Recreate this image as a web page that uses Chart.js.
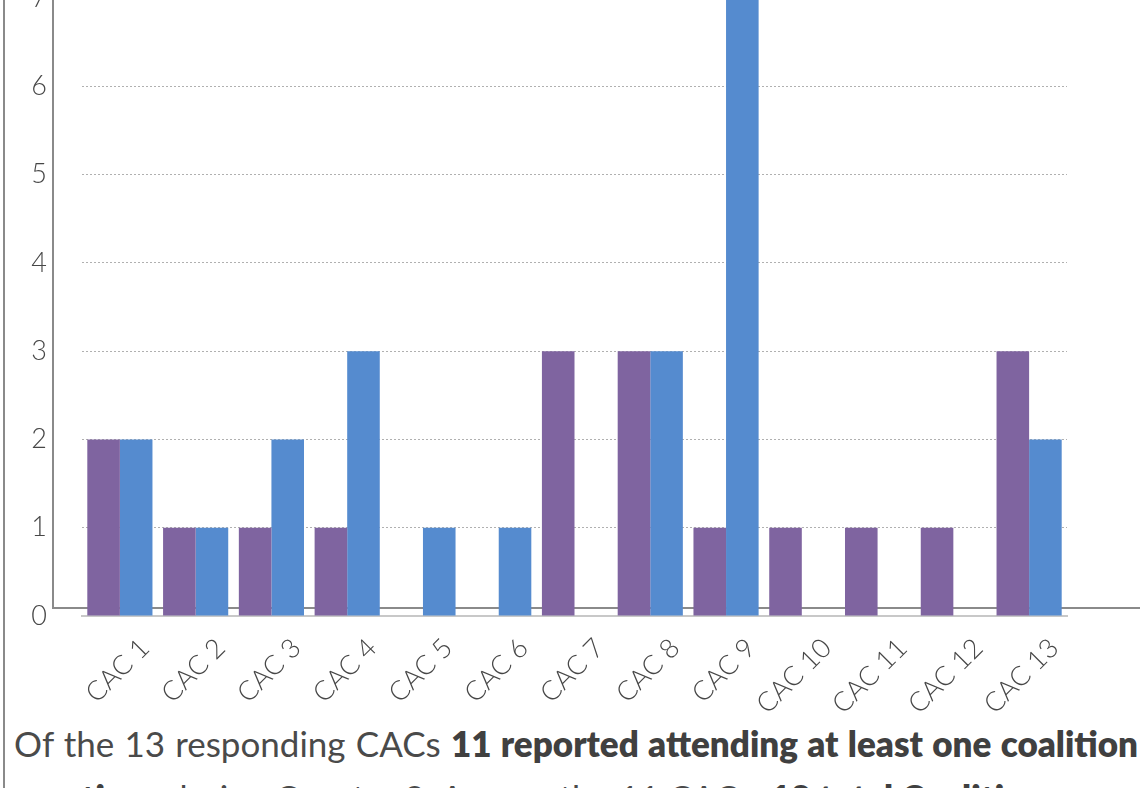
<!DOCTYPE html>
<html>
<head>
<meta charset="utf-8">
<script src="https://cdn.jsdelivr.net/npm/chart.js@4/dist/chart.umd.min.js"></script>
<style>
  html, body { margin: 0; padding: 0; background: #fff; overflow: hidden; }
  body { width: 1140px; height: 788px; position: relative; }
  #wrap { position: absolute; left: 0; top: -40px; width: 1140px; height: 756px; }
  .vline { position: absolute; border-left: 2px solid #8a8a8a; }
  .hline { position: absolute; border-top: 2px solid #8a8a8a; }
  .txt { position: absolute; left: 14px; width: 1124px; font-family: Lato, sans-serif; font-size: 35px; color: #4a4a4a; white-space: nowrap; }
  .txt b { color: #404040; font-weight: 800; }
  #line1 { top: 722px; text-align: justify; text-align-last: justify; white-space: normal; }
  #line2 { top: 776px; }
</style>
</head>
<body>
<div class="vline" style="left:3px; top:0; height:788px;"></div>
<div class="vline" style="left:52px; top:0; height:608px;"></div>
<div class="hline" style="left:52px; top:607px; width:1090px;"></div>
<div id="wrap"><canvas id="myChart"></canvas></div>
<div class="txt" id="line1">Of the 13 responding CACs <b>11 reported attending at least one coalition</b></div>
<div class="txt" id="line2"><b>meetings</b> during Quarter 2. Among the 11 CACs, <b>18 total Coalition</b></div>
<script>
const categories = ['CAC 1', 'CAC 2', 'CAC 3', 'CAC 4', 'CAC 5', 'CAC 6', 'CAC 7',
                    'CAC 8', 'CAC 9', 'CAC 10', 'CAC 11', 'CAC 12', 'CAC 13'];
const purpleValues = [2, 1, 1, 1, 0, 0, 3, 3, 1, 1, 1, 1, 3];
const blueValues   = [2, 1, 2, 3, 1, 1, 0, 3, 7, 0, 0, 0, 2];
const yTicks = [0, 1, 2, 3, 4, 5, 6, 7];

(() => {
  'use strict';

  const ctx = document.getElementById('myChart');
  // eslint-disable-next-line no-unused-vars
  const myChart = new Chart(ctx, {
    type: 'bar',
    data: {
      labels: categories,
      datasets: [{
        data: purpleValues,
        backgroundColor: '#7f64a0',
        borderWidth: 0,
        categoryPercentage: 0.86,
        barPercentage: 1
      }, {
        data: blueValues,
        backgroundColor: '#558bcf',
        borderWidth: 0,
        categoryPercentage: 0.86,
        barPercentage: 1
      }]
    },
    options: {
      responsive: true,
      maintainAspectRatio: false,
      animation: false,
      layout: { padding: { top: 38, right: 73, left: 0, bottom: 0 } },
      plugins: {
        legend: { display: false },
        tooltip: { enabled: false }
      },
      scales: {
        x: {
          grid: { display: false },
          border: { color: '#c8c8c8', width: 2 },
          afterFit: (scale) => {
            scale.height = 100;
            scale.paddingLeft = 0;
            scale.paddingRight = 0;
          },
          ticks: {
            minRotation: 45,
            maxRotation: 45,
            labelOffset: 25,
            padding: 8,
            color: '#474747',
            font: { family: 'Lato', size: 27, weight: '300' }
          }
        },
        y: {
          min: 0,
          max: 7,
          afterFit: (scale) => {
            scale.width = 82;
            scale.paddingTop = 0;
            scale.paddingBottom = 0;
          },
          afterBuildTicks: (scale) => { scale.ticks = yTicks.map(v => ({ value: v })); },
          border: { display: false, dash: [2, 2] },
          grid: {
            drawTicks: false,
            color: (c) => c.tick && c.tick.value === 0 ? 'rgba(0,0,0,0)' : '#b0b0b0',
            lineWidth: 1
          },
          ticks: {
            padding: 35,
            color: '#474747',
            font: { family: 'Lato', size: 27, weight: '300' }
          }
        }
      }
    }
  });
})();
</script>
</body>
</html>
